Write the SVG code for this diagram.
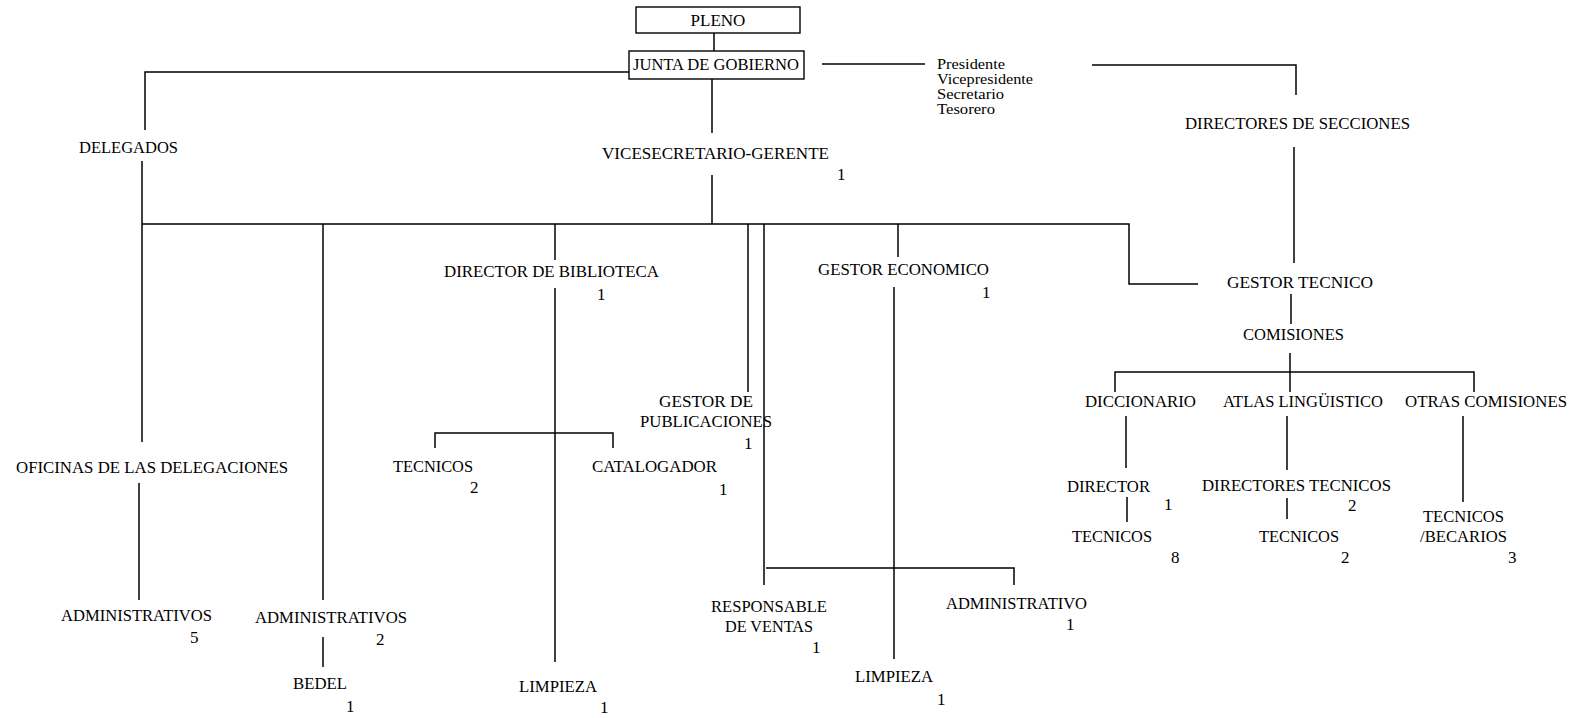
<svg xmlns="http://www.w3.org/2000/svg" width="1573" height="718" viewBox="0 0 1573 718">
<style>
text{font-family:"Liberation Serif","Times New Roman",serif;font-size:17px;fill:#000}
.s{font-size:15.5px}
.box{fill:#fff;stroke:#000;stroke-width:1.4}
#connectors path{fill:none;stroke:#000;stroke-width:1.5}
</style>
<rect width="1573" height="718" fill="#fff"/>
<g id="connectors">
<path d="M714,33 V51"/>
<path d="M629,72 H145 V130"/>
<path d="M142,161 V224"/>
<path d="M142,224 H1129 V284 H1198"/>
<path d="M822,64 H925"/>
<path d="M1092,65 H1296 V95"/>
<path d="M712,79 V133"/>
<path d="M712,175 V224"/>
<path d="M1294,147 V263"/>
<path d="M142,224 V442"/>
<path d="M139,483 V600"/>
<path d="M323,224 V600"/>
<path d="M323,637 V667"/>
<path d="M555,224 V260"/>
<path d="M555,288 V662"/>
<path d="M435,448 V433 H613 V448"/>
<path d="M748,224 V392"/>
<path d="M764,224 V585"/>
<path d="M766,568 H1014 V585"/>
<path d="M898,224 V257"/>
<path d="M894,287 V659"/>
<path d="M1291,294 V324"/>
<path d="M1290,353 V392"/>
<path d="M1115,392 V372 H1474 V392"/>
<path d="M1126,416 V468"/>
<path d="M1127,497 V522"/>
<path d="M1287,416 V470"/>
<path d="M1287,498 V519"/>
<path d="M1463,416 V502"/>
</g>
<g id="pleno"><rect class="box" x="636" y="7" width="164" height="26"/><text x="718" y="26" text-anchor="middle">PLENO</text></g>
<g id="junta"><rect class="box" x="629" y="51" width="175" height="28"/><text x="716" y="70" text-anchor="middle" textLength="166" lengthAdjust="spacingAndGlyphs">JUNTA DE GOBIERNO</text></g>
<g id="cargos">
<text class="s" x="937" y="69" textLength="68" lengthAdjust="spacingAndGlyphs">Presidente</text>
<text class="s" x="937" y="84" textLength="96" lengthAdjust="spacingAndGlyphs">Vicepresidente</text>
<text class="s" x="937" y="99" textLength="67" lengthAdjust="spacingAndGlyphs">Secretario</text>
<text class="s" x="937" y="114" textLength="58" lengthAdjust="spacingAndGlyphs">Tesorero</text>
</g>
<g id="delegados"><text x="79" y="153" textLength="99" lengthAdjust="spacingAndGlyphs">DELEGADOS</text></g>
<g id="vicesecretario"><text x="602" y="159" textLength="227" lengthAdjust="spacingAndGlyphs">VICESECRETARIO-GERENTE</text><text x="837" y="180">1</text></g>
<g id="directores-secciones"><text x="1185" y="129" textLength="225" lengthAdjust="spacingAndGlyphs">DIRECTORES DE SECCIONES</text></g>
<g id="director-biblioteca"><text x="444" y="277" textLength="215" lengthAdjust="spacingAndGlyphs">DIRECTOR DE BIBLIOTECA</text><text x="597" y="300">1</text></g>
<g id="gestor-economico"><text x="818" y="275" textLength="171" lengthAdjust="spacingAndGlyphs">GESTOR ECONOMICO</text><text x="982" y="298">1</text></g>
<g id="gestor-tecnico"><text x="1227" y="288" textLength="146" lengthAdjust="spacingAndGlyphs">GESTOR TECNICO</text></g>
<g id="comisiones"><text x="1243" y="340" textLength="101" lengthAdjust="spacingAndGlyphs">COMISIONES</text></g>
<g id="gestor-publicaciones"><text x="659" y="407" textLength="94" lengthAdjust="spacingAndGlyphs">GESTOR DE</text><text x="640" y="427" textLength="132" lengthAdjust="spacingAndGlyphs">PUBLICACIONES</text><text x="744" y="449">1</text></g>
<g id="tecnicos-bib"><text x="393" y="472" textLength="80" lengthAdjust="spacingAndGlyphs">TECNICOS</text><text x="470" y="493">2</text></g>
<g id="catalogador"><text x="592" y="472" textLength="125" lengthAdjust="spacingAndGlyphs">CATALOGADOR</text><text x="719" y="495">1</text></g>
<g id="oficinas"><text x="16" y="473" textLength="272" lengthAdjust="spacingAndGlyphs">OFICINAS DE LAS DELEGACIONES</text></g>
<g id="administrativos-del"><text x="61" y="621" textLength="151" lengthAdjust="spacingAndGlyphs">ADMINISTRATIVOS</text><text x="190" y="643">5</text></g>
<g id="administrativos"><text x="255" y="623" textLength="152" lengthAdjust="spacingAndGlyphs">ADMINISTRATIVOS</text><text x="376" y="645">2</text></g>
<g id="bedel"><text x="293" y="689" textLength="54" lengthAdjust="spacingAndGlyphs">BEDEL</text><text x="346" y="712">1</text></g>
<g id="limpieza-bib"><text x="519" y="692" textLength="78" lengthAdjust="spacingAndGlyphs">LIMPIEZA</text><text x="600" y="713">1</text></g>
<g id="responsable-ventas"><text x="711" y="612" textLength="116" lengthAdjust="spacingAndGlyphs">RESPONSABLE</text><text x="725" y="632" textLength="88" lengthAdjust="spacingAndGlyphs">DE VENTAS</text><text x="812" y="653">1</text></g>
<g id="administrativo"><text x="946" y="609" textLength="141" lengthAdjust="spacingAndGlyphs">ADMINISTRATIVO</text><text x="1066" y="630">1</text></g>
<g id="limpieza-eco"><text x="855" y="682" textLength="78" lengthAdjust="spacingAndGlyphs">LIMPIEZA</text><text x="937" y="705">1</text></g>
<g id="diccionario"><text x="1085" y="407" textLength="111" lengthAdjust="spacingAndGlyphs">DICCIONARIO</text></g>
<g id="atlas"><text x="1223" y="407" textLength="160" lengthAdjust="spacingAndGlyphs">ATLAS LINGÜISTICO</text></g>
<g id="otras"><text x="1405" y="407" textLength="162" lengthAdjust="spacingAndGlyphs">OTRAS COMISIONES</text></g>
<g id="director-dic"><text x="1067" y="492" textLength="83" lengthAdjust="spacingAndGlyphs">DIRECTOR</text><text x="1164" y="510">1</text></g>
<g id="tecnicos-dic"><text x="1072" y="542" textLength="80" lengthAdjust="spacingAndGlyphs">TECNICOS</text><text x="1171" y="563">8</text></g>
<g id="directores-tecnicos"><text x="1202" y="491" textLength="189" lengthAdjust="spacingAndGlyphs">DIRECTORES TECNICOS</text><text x="1348" y="511">2</text></g>
<g id="tecnicos-atlas"><text x="1259" y="542" textLength="80" lengthAdjust="spacingAndGlyphs">TECNICOS</text><text x="1341" y="563">2</text></g>
<g id="tecnicos-becarios"><text x="1423" y="522" textLength="81" lengthAdjust="spacingAndGlyphs">TECNICOS</text><text x="1420" y="542" textLength="87" lengthAdjust="spacingAndGlyphs">/BECARIOS</text><text x="1508" y="563">3</text></g>
</svg>
